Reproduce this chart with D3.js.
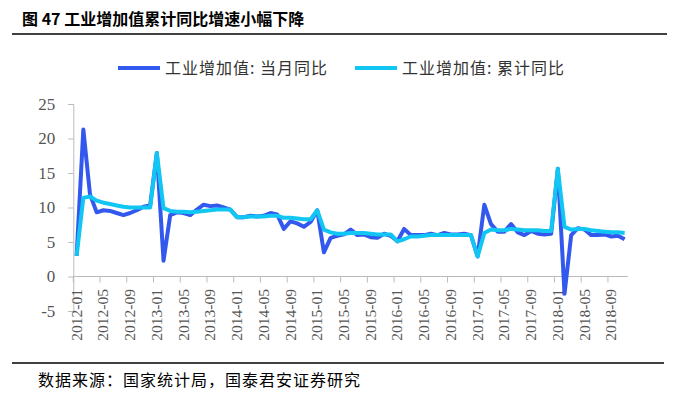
<!DOCTYPE html>
<html><head><meta charset="utf-8">
<script src="https://cdn.jsdelivr.net/npm/d3@7"></script>
<style>body{margin:0;background:#fff}svg{display:block}</style>
</head><body>
<svg id="c" width="680" height="401"></svg>
<script>
const title = "图 47 工业增加值累计同比增速小幅下降";
const source = "数据来源：国家统计局，国泰君安证券研究";
const seriesNames = ["工业增加值: 当月同比", "工业增加值: 累计同比"];
const seriesColors = ["#3358EE", "#12C6F4"];
const yTicks = [-5, 0, 5, 10, 15, 20, 25];

// months 2012-01 .. 2018-11
const months = [];
for (let y = 2012; y <= 2018; y++) for (let m = 1; m <= 12; m++) {
  if (y === 2018 && m > 11) break;
  months.push(y + "-" + String(m).padStart(2, "0"));
}
const monthly = [
  3.0, 21.3, 11.9, 9.3, 9.6, 9.5, 9.2, 8.9, 9.2, 9.6, 10.1, 10.3,
  17.9, 2.3, 8.9, 9.3, 9.2, 8.9, 9.7, 10.4, 10.2, 10.3, 10.0, 9.7,
  8.6, 8.6, 8.8, 8.7, 8.8, 9.2, 9.0, 6.9, 8.0, 7.7, 7.2, 7.9,
  9.6, 3.5, 5.6, 5.9, 6.1, 6.8, 6.0, 6.1, 5.7, 5.6, 6.2, 5.9,
  5.1, 6.9, 6.0, 6.0, 6.0, 6.2, 6.0, 6.3, 6.1, 6.1, 6.2, 6.0,
  2.9, 10.4, 7.6, 6.5, 6.5, 7.6, 6.4, 6.0, 6.6, 6.2, 6.1, 6.2,
  15.6, -2.5, 6.0, 7.0, 6.8, 6.0, 6.0, 6.1, 5.8, 5.9, 5.4
];
const cumulative = [
  3.0, 11.4, 11.6, 11.0, 10.7, 10.5, 10.3, 10.1, 10.0, 10.0, 10.0, 10.0,
  17.9, 9.9, 9.5, 9.4, 9.4, 9.3, 9.4, 9.5, 9.6, 9.7, 9.7, 9.7,
  8.6, 8.6, 8.7, 8.7, 8.7, 8.8, 8.8, 8.5, 8.5, 8.4, 8.3, 8.3,
  9.6, 6.8, 6.4, 6.2, 6.2, 6.3, 6.3, 6.3, 6.2, 6.1, 6.1, 6.1,
  5.1, 5.4, 5.8, 5.8, 5.9, 6.0, 6.0, 6.0, 6.0, 6.0, 6.0, 6.0,
  2.9, 6.3, 6.8, 6.7, 6.7, 6.9, 6.8, 6.7, 6.7, 6.7, 6.6, 6.6,
  15.6, 7.2, 6.8, 6.9, 6.9, 6.7, 6.6, 6.5, 6.4, 6.4, 6.3
];
const tickMonths = months.filter((d, i) => i % 4 === 0);

const svg = d3.select("#c");
const cjk = "'Noto Sans CJK SC', sans-serif";
const serif = "'Liberation Serif', 'Times New Roman', serif";

const x = d3.scaleBand().domain(months).range([73.3, 628]).padding(0);
const y = d3.scaleLinear().domain([-5, 25]).range([311, 104]);
const cx = d => x(d) + x.bandwidth() / 2;

// title & rules
svg.append("text").attr("x", 22).attr("y", 25).text(title)
  .attr("font-family", cjk).attr("font-weight", "bold").attr("font-size", 16).attr("fill", "#000")
  .attr("xml:space", "preserve");
svg.append("line").attr("x1", 12).attr("x2", 667).attr("y1", 34).attr("y2", 34)
  .attr("stroke", "#000").attr("stroke-width", 1.5);
svg.append("line").attr("x1", 12).attr("x2", 664).attr("y1", 363).attr("y2", 363)
  .attr("stroke", "#000").attr("stroke-width", 1.5);
svg.append("text").attr("x", 38).attr("y", 386).text(source)
  .attr("font-family", cjk).attr("font-size", 16).attr("letter-spacing", 1).attr("fill", "#000");

// legend
const legX = [118, 355];
seriesNames.forEach((n, i) => {
  svg.append("line").attr("x1", legX[i]).attr("x2", legX[i] + 42).attr("y1", 68).attr("y2", 68)
    .attr("stroke", seriesColors[i]).attr("stroke-width", 4);
  svg.append("text").attr("x", legX[i] + 47).attr("y", 74).text(n)
    .attr("font-family", cjk).attr("font-size", 16).attr("letter-spacing", 1).attr("fill", "#333");
});

// y axis
const yAxis = svg.append("g").attr("transform", "translate(73.3,0)")
  .call(d3.axisLeft(y).tickValues(yTicks).tickSize(5).tickPadding(13).tickFormat(d => String(d)));
yAxis.select(".domain").attr("stroke", "#bbb");
yAxis.selectAll(".tick line").attr("stroke", "#bbb");
yAxis.selectAll(".tick text").attr("font-family", serif).attr("font-size", 17).attr("fill", "#555");

// x axis at 0
const xAxis = svg.append("g").attr("transform", `translate(0,${y(0)})`)
  .call(d3.axisBottom(x).tickValues(tickMonths).tickSize(6).tickFormat(""));
xAxis.select(".domain").attr("stroke", "#bbb").attr("d", `M73.3,0H628`);
xAxis.selectAll(".tick").attr("transform", d => `translate(${x(d)},0)`);
xAxis.selectAll(".tick line").attr("stroke", "#bbb");
svg.append("g").selectAll("text").data(tickMonths).join("text")
  .attr("transform", d => `translate(${cx(d) + 5},289) rotate(-90)`)
  .attr("text-anchor", "end").text(d => d)
  .attr("font-family", serif).attr("font-size", 15.5).attr("fill", "#555");

// lines
const line = d3.line().x((d, i) => cx(months[i])).y(d => y(d));
[monthly, cumulative].forEach((s, i) => {
  svg.append("path").datum(s).attr("d", line).attr("fill", "none")
    .attr("stroke", seriesColors[i]).attr("stroke-width", 4).attr("stroke-linejoin", "round");
});
</script>
</body></html>
